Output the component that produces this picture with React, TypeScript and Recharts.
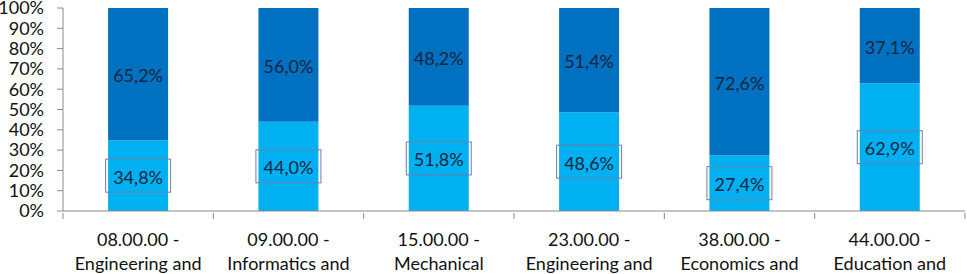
import React from 'react';
import { Bar, BarChart, LabelList, XAxis, YAxis } from 'recharts';

const codes = ['08.00.00 -', '09.00.00 -', '15.00.00 -', '23.00.00 -', '38.00.00 -', '44.00.00 -'];
const names = [
  'Engineering and',
  'Informatics and',
  'Mechanical',
  'Engineering and',
  'Economics and',
  'Education and',
];
const lowerShare = [34.8, 44.0, 51.8, 48.6, 27.4, 62.9];
const upperShare = [65.2, 56.0, 48.2, 51.4, 72.6, 37.1];
const yTicks = [0, 10, 20, 30, 40, 50, 60, 70, 80, 90, 100];

const data = codes.map((code, i) => ({
  code,
  name: names[i],
  lower: lowerShare[i],
  upper: upperShare[i],
}));

const font = 'Lato, "Open Sans", sans-serif';
const textColor = '#13263f';
const axisColor = '#8a8a8a';

const fmt = (v: number) => `${v.toFixed(1).replace('.', ',')}%`;

function CategoryTick(props: any) {
  const { x, y, payload, index } = props;
  const half = Number(payload.offset) || 0;
  const last = index === codes.length - 1;
  return (
    <g transform={`translate(${x},${y})`}>
      {/* tick marks sit on the category boundaries, as in Excel */}
      <line x1={-half} x2={-half} y1={-8} y2={-2} stroke={axisColor} />
      {last && <line x1={half} x2={half} y1={-8} y2={-2} stroke={axisColor} />}
      <text textAnchor="middle" fontFamily={font} fontSize={18} fill="#111">
        <tspan x={0} dy={25}>{payload.value}</tspan>
        <tspan x={0} dy={24}>{names[index]}</tspan>
      </text>
    </g>
  );
}

function BoxedLabel(props: any) {
  const { x, y, width, height, value } = props;
  const cx = Number(x) + Number(width) / 2;
  const cy = Number(y) + Number(height) / 2;
  return (
    <g>
      <rect x={cx - 32.5} y={cy - 16.5} width={65} height={33} fill="none" stroke="#6f80a6" strokeWidth={1} />
      <text x={cx} y={cy + 1} textAnchor="middle" dominantBaseline="central" fontFamily={font} fontSize={18} fill={textColor}>
        {fmt(Number(value))}
      </text>
    </g>
  );
}

function PlainLabel(props: any) {
  const { x, y, width, height, value } = props;
  const cx = Number(x) + Number(width) / 2;
  const cy = Number(y) + Number(height) / 2;
  return (
    <text x={cx} y={cy + 1} textAnchor="middle" dominantBaseline="central" fontFamily={font} fontSize={18} fill={textColor}>
      {fmt(Number(value))}
    </text>
  );
}

export default function App() {
  return (
    <div style={{ position: 'fixed', top: 0, left: 0, width: 967, height: 274, background: '#fff' }}>
      <BarChart
        width={967}
        height={274}
        data={data}
        margin={{ top: 8, right: 2, bottom: 0, left: 0 }}
        barCategoryGap="30%"
      >
        <XAxis
          dataKey="code"
          interval={0}
          height={63}
          tick={<CategoryTick />}
          tickLine={false}
          tickSize={8}
          axisLine={{ stroke: axisColor }}
        />
        <YAxis
          width={63}
          domain={[0, 100]}
          ticks={yTicks}
          interval={0}
          tickFormatter={(v) => `${v}%`}
          tick={{ fill: '#111', fontSize: 18, fontFamily: font }}
          tickSize={6}
          tickMargin={13}
          tickLine={{ stroke: axisColor }}
          axisLine={{ stroke: axisColor }}
        />
        <Bar dataKey="lower" stackId="a" fill="#00b0f0" isAnimationActive={false}>
          <LabelList dataKey="lower" content={<BoxedLabel />} />
        </Bar>
        <Bar dataKey="upper" stackId="a" fill="#0070c0" isAnimationActive={false}>
          <LabelList dataKey="upper" content={<PlainLabel />} />
        </Bar>
      </BarChart>
    </div>
  );
}
